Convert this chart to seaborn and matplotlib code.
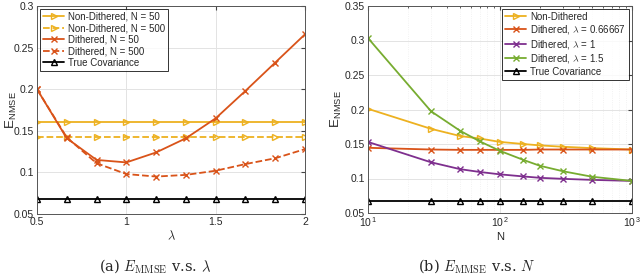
import numpy as np
import pandas as pd
import matplotlib
matplotlib.use("Agg")
import matplotlib.pyplot as plt
import seaborn as sns

# ---- data, left panel (vs lambda)
lam = [0.5, 0.6667, 0.8333, 1.0, 1.1667, 1.3333, 1.5, 1.6667, 1.8333, 2.0]
nondith_50 = [0.160] * 10
nondith_500 = [0.142] * 10
dith_50 = [0.200, 0.141, 0.115, 0.112, 0.124, 0.141, 0.165, 0.198, 0.232, 0.266]
dith_500 = [0.200, 0.142, 0.111, 0.098, 0.095, 0.097, 0.102, 0.110, 0.117, 0.128]
true_cov_a = [0.068] * 10

# ---- data, right panel (vs N)
N = [10, 30, 50, 70, 100, 150, 200, 300, 500, 1000]
nondith = [0.201, 0.172, 0.1615, 0.158, 0.153, 0.150, 0.148, 0.146, 0.144, 0.142]
dith_l067 = [0.1445, 0.142, 0.1415, 0.1415, 0.1415, 0.1415, 0.142, 0.142, 0.142, 0.142]
dith_l1 = [0.153, 0.1235, 0.1135, 0.1095, 0.106, 0.103, 0.101, 0.0995, 0.098, 0.0965]
dith_l15 = [0.3035, 0.1975, 0.169, 0.154, 0.140, 0.127, 0.1185, 0.1105, 0.1025, 0.0965]
true_cov_b = [0.068] * 10

YELLOW = "#EDB120"
ORANGE = "#D95319"
PURPLE = "#7E2F8E"
GREEN = "#77AC30"

sns.set_style("white")
plt.rcParams["font.family"] = ["Liberation Sans", "DejaVu Sans"]
plt.rcParams["mathtext.fontset"] = "cm"
plt.rcParams["font.size"] = 7.5

fig = plt.figure(figsize=(6.4, 2.74), dpi=100)
ax1 = fig.add_axes([37 / 640, 1 - 214 / 274, 268 / 640, 208 / 274])
ax2 = fig.add_axes([368 / 640, 1 - 213 / 274, 264 / 640, 207 / 274])


def draw(ax, x, y, color, marker, ls, label, ms=5, mfc="none"):
    sns.lineplot(x=x, y=y, ax=ax, color=color, marker=marker, linestyle=ls,
                 label=label, markersize=ms, markerfacecolor=mfc,
                 markeredgecolor=color, markeredgewidth=1.0, linewidth=1.3)


# left
draw(ax1, lam, nondith_50, YELLOW, ">", "-", "Non-Dithered, N = 50")
draw(ax1, lam, nondith_500, YELLOW, ">", "--", "Non-Dithered, N = 500")
draw(ax1, lam, dith_50, ORANGE, "x", "-", "Dithered, N = 50", ms=4)
draw(ax1, lam, dith_500, ORANGE, "x", "--", "Dithered, N = 500", ms=4)
draw(ax1, lam, true_cov_a, "black", "^", "-", "True Covariance")
ax1.set_xlim(0.5, 2)
ax1.set_ylim(0.05, 0.3)
ax1.set_xticks([0.5, 1, 1.5, 2])
ax1.set_xticklabels(["0.5", "1", "1.5", "2"])
ax1.set_yticks([0.05, 0.1, 0.15, 0.2, 0.25, 0.3])
ax1.set_yticklabels(["0.05", "0.1", "0.15", "0.2", "0.25", "0.3"])
ax1.set_xlabel(r"$\lambda$", fontsize=9, labelpad=2)
ax1.grid(True, color="#e3e3e3", linewidth=0.7)
ax1.yaxis.set_label_coords(-0.068, 0.5)

# right
draw(ax2, N, nondith, YELLOW, ">", "-", "Non-Dithered")
draw(ax2, N, dith_l067, ORANGE, "x", "-", r"Dithered, $\lambda$ = 0.66667", ms=4)
draw(ax2, N, dith_l1, PURPLE, "x", "-", r"Dithered, $\lambda$ = 1", ms=4)
draw(ax2, N, dith_l15, GREEN, "x", "-", r"Dithered, $\lambda$ = 1.5", ms=4)
draw(ax2, N, true_cov_b, "black", "^", "-", "True Covariance")
ax2.set_xscale("log")
ax2.set_xlim(10, 1000)
ax2.set_ylim(0.05, 0.35)
ax2.set_xticks([10, 100, 1000])
ax2.set_xticklabels([r"10$^{\mathregular{1}}$", r"10$^{\mathregular{2}}$",
                     r"10$^{\mathregular{3}}$"])
ax2.set_yticks([0.05, 0.1, 0.15, 0.2, 0.25, 0.3, 0.35])
ax2.set_yticklabels(["0.05", "0.1", "0.15", "0.2", "0.25", "0.3", "0.35"])
ax2.set_xlabel("N", fontsize=8, labelpad=2)
ax2.grid(True, which="major", color="#e3e3e3", linewidth=0.7)
ax2.grid(True, which="minor", color="#eeeeee", linewidth=0.6, linestyle=":")
ax2.yaxis.set_label_coords(-0.09, 0.5)

for ax in (ax1, ax2):
    ax.set_ylabel(r"E$_{\mathregular{NMSE}}$", fontsize=9.5)
    ax.tick_params(direction="in", which="both", top=True, right=True,
                   labelsize=7.5, length=3, color="#444444", pad=2)
    ax.tick_params(which="minor", length=1.5)
    for s in ax.spines.values():
        s.set_color("#555555")
        s.set_linewidth(0.7)

leg1 = ax1.legend(loc="upper left", fontsize=7, frameon=True, fancybox=False,
                  handlelength=2.2, borderpad=0.3, labelspacing=0.15,
                  handletextpad=0.4, borderaxespad=0.3)
leg2 = ax2.legend(loc="upper right", fontsize=7, frameon=True, fancybox=False,
                  handlelength=2.2, borderpad=0.3, labelspacing=0.15,
                  handletextpad=0.4, borderaxespad=0.3)
for leg in (leg1, leg2):
    leg.get_frame().set_edgecolor("black")
    leg.get_frame().set_linewidth(0.7)

fig.text(155 / 640, 1 - 266 / 274, r"(a) $E_{\mathrm{MMSE}}$ v.s. $\lambda$",
         ha="center", va="center", fontsize=10.5, family="serif")
fig.text(477 / 640, 1 - 266 / 274, r"(b) $E_{\mathrm{MMSE}}$ v.s. $N$",
         ha="center", va="center", fontsize=10.5, family="serif")

fig.savefig("out.png", dpi=100)
